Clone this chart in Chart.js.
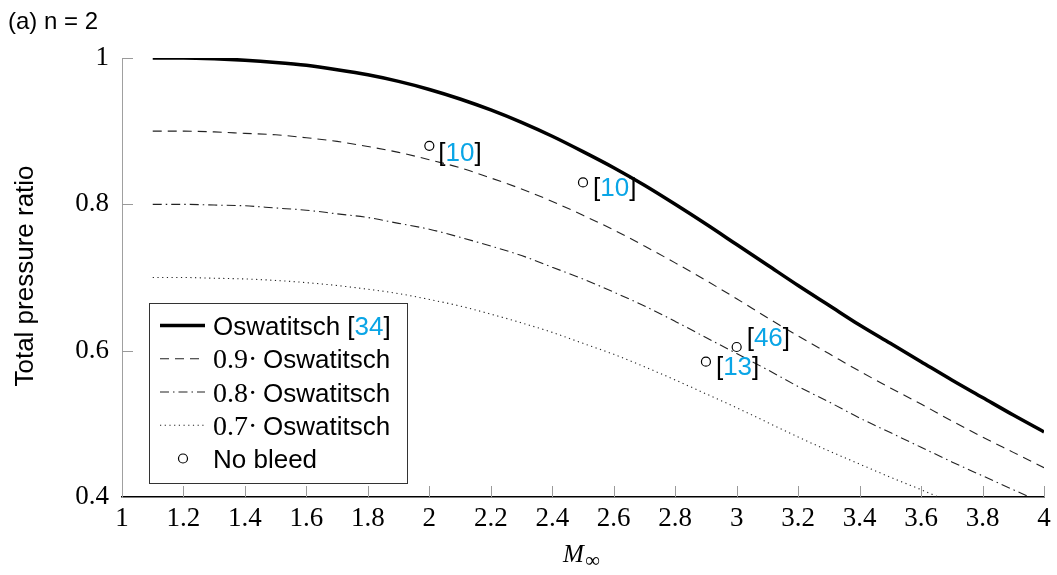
<!DOCTYPE html>
<html>
<head>
<meta charset="utf-8">
<script src="https://cdn.jsdelivr.net/npm/chart.js@4.4.0/dist/chart.umd.min.js"></script>
<style>
  html, body { margin: 0; padding: 0; background: #fff; }
  #wrap { width: 1057px; height: 575px; position: relative; }
</style>
</head>
<body>
<div id="wrap"><canvas id="chart" width="1057" height="575"></canvas></div>
<script>
// Mach numbers along the curves
const machValues = [1.1, 1.2, 1.3, 1.4, 1.5, 1.6, 1.7, 1.8, 1.9, 2.0,
    2.1, 2.2, 2.3, 2.4, 2.5, 2.6, 2.7, 2.8, 2.9, 3.0,
    3.1, 3.2, 3.3, 3.4, 3.5, 3.6, 3.7, 3.8, 3.9, 4.0];

// Oswatitsch optimum
const oswatitsch = [1.000, 1.000, 0.999, 0.997, 0.994, 0.990, 0.984, 0.977, 0.968, 0.957,
    0.944, 0.929, 0.912, 0.893, 0.872, 0.850, 0.826, 0.800, 0.773, 0.745,
    0.717, 0.689, 0.662, 0.635, 0.610, 0.585, 0.560, 0.536, 0.512, 0.489];
const oswatitsch09 = [0.900, 0.900, 0.899, 0.897, 0.895, 0.891, 0.886, 0.879, 0.871, 0.861,
    0.850, 0.836, 0.821, 0.804, 0.785, 0.765, 0.743, 0.720, 0.696, 0.671,
    0.645, 0.620, 0.596, 0.572, 0.549, 0.527, 0.504, 0.482, 0.461, 0.440];
const oswatitsch08 = [0.800, 0.800, 0.799, 0.798, 0.795, 0.792, 0.787, 0.782, 0.774, 0.766,
    0.755, 0.743, 0.730, 0.714, 0.698, 0.680, 0.661, 0.640, 0.618, 0.596,
    0.574, 0.551, 0.530, 0.508, 0.488, 0.468, 0.448, 0.429, 0.410, 0.391];
const oswatitsch07 = [0.700, 0.700, 0.699, 0.698, 0.696, 0.693, 0.689, 0.684, 0.678, 0.670,
    0.661, 0.650, 0.638, 0.625, 0.610, 0.595, 0.578, 0.560, 0.541, 0.522,
    0.502, 0.482, 0.463, 0.445, 0.427, 0.410, 0.392, 0.375, 0.358, 0.342];

// Experimental points without bleed
const bleedMach = [2.0, 2.5, 3.0, 2.9];
const bleedRatio = [0.88, 0.83, 0.605, 0.585];
const bleedRefs = ['10', '10', '46', '13'];

// Axis ticks
const xTicks = [1, 1.2, 1.4, 1.6, 1.8, 2, 2.2, 2.4, 2.6, 2.8, 3, 3.2, 3.4, 3.6, 3.8, 4];
const yTicks = [0.4, 0.6, 0.8, 1];

const CYAN = '#0aa5e6';
const SANS = '"Liberation Sans", Arial, sans-serif';
const SERIF = '"Liberation Serif", "Times New Roman", serif';

// label offsets for the reference tags next to each point [dx, dy to baseline]
const refOffsets = [[9, 15], [10, 14], [10, -1], [10, 13]];

function toXY(xs, ys) {
    return xs.map((x, i) => ({ x: x, y: ys[i] }));
}

// Draw "[nn]" with a cyan number
function drawRef(ctx, x, y, num) {
    ctx.font = '26px ' + SANS;
    ctx.textBaseline = 'alphabetic';
    ctx.textAlign = 'left';
    ctx.fillStyle = '#000';
    ctx.fillText('[', x, y);
    let w = ctx.measureText('[').width;
    ctx.fillStyle = CYAN;
    ctx.fillText(num, x + w, y);
    w += ctx.measureText(num).width;
    ctx.fillStyle = '#000';
    ctx.fillText(']', x + w, y);
}

const extras = {
    id: 'extras',
    afterDraw(chart) {
        const ctx = chart.ctx;
        const xs = chart.scales.x;
        const ys = chart.scales.y;
        const area = chart.chartArea;
        ctx.save();

        // inward tick marks
        ctx.strokeStyle = '#9a9a9a';
        ctx.lineWidth = 1;
        xTicks.forEach(v => {
            if (v === xTicks[0]) return;
            const px = Math.round(xs.getPixelForValue(v)) + 0.5;
            ctx.beginPath();
            ctx.moveTo(px, area.bottom);
            ctx.lineTo(px, area.bottom - 11);
            ctx.stroke();
        });
        yTicks.forEach(v => {
            if (v === yTicks[0]) return;
            const py = Math.round(ys.getPixelForValue(v)) + 0.5;
            ctx.beginPath();
            ctx.moveTo(area.left, py);
            ctx.lineTo(area.left + 11, py);
            ctx.stroke();
        });

        // reference tags
        bleedMach.forEach((m, i) => {
            const px = xs.getPixelForValue(m);
            const py = ys.getPixelForValue(bleedRatio[i]);
            drawRef(ctx, px + refOffsets[i][0], py + refOffsets[i][1], bleedRefs[i]);
        });

        // legend box
        const bx = 149.5, by = 303.5, bw = 258, bh = 180;
        ctx.fillStyle = '#fff';
        ctx.fillRect(bx, by, bw, bh);
        ctx.strokeStyle = '#333';
        ctx.lineWidth = 1;
        ctx.strokeRect(bx, by, bw, bh);

        const rowBase = [335, 368.25, 401.5, 434.75, 468];
        chart.data.datasets.forEach((ds, i) => {
            const base = rowBase[i];
            const cy = base - 9.5;
            ctx.save();
            if (ds.showLine === false) {
                ctx.beginPath();
                ctx.arc(183, cy, 4.5, 0, Math.PI * 2);
                ctx.strokeStyle = '#000';
                ctx.lineWidth = 1.2;
                ctx.stroke();
            } else {
                ctx.beginPath();
                ctx.setLineDash(ds.borderDash || []);
                ctx.strokeStyle = ds.borderColor;
                ctx.lineWidth = ds.borderWidth;
                ctx.moveTo(160, cy);
                ctx.lineTo(205, cy);
                ctx.stroke();
            }
            ctx.restore();
            ctx.textBaseline = 'alphabetic';
            ctx.textAlign = 'left';
            ctx.fillStyle = '#000';
            if (ds.factor) {
                ctx.font = '28px ' + SERIF;
                ctx.fillText(ds.factor + '\u00b7', 213, base);
                ctx.font = '26px ' + SANS;
                ctx.fillText('Oswatitsch', 263, base);
            } else if (ds.ref) {
                ctx.font = '26px ' + SANS;
                const t = ds.label + ' ';
                ctx.fillText(t, 213, base);
                drawRef(ctx, 213 + ctx.measureText(t).width, base, ds.ref);
            } else {
                ctx.font = '26px ' + SANS;
                ctx.fillText(ds.label, 213, base);
            }
        });

        // titles
        ctx.fillStyle = '#000';
        ctx.font = '24px ' + SANS;
        ctx.textAlign = 'left';
        ctx.fillText('(a) n = 2', 8, 29);

        ctx.save();
        ctx.translate(33, 276);
        ctx.rotate(-Math.PI / 2);
        ctx.textAlign = 'center';
        ctx.font = '26px ' + SANS;
        ctx.fillText('Total pressure ratio', 0, 0);
        ctx.restore();

        ctx.textAlign = 'left';
        ctx.font = 'italic 25px ' + SERIF;
        ctx.fillText('M', 563, 562);
        ctx.font = '21px ' + SERIF;
        ctx.fillText('\u221e', 585, 567);

        ctx.restore();
    }
};

new Chart(document.getElementById('chart'), {
    type: 'line',
    data: {
        datasets: [
            {
                label: 'Oswatitsch',
                ref: '34',
                data: toXY(machValues, oswatitsch),
                borderColor: '#000',
                borderWidth: 3.5,
                pointRadius: 0,
                cubicInterpolationMode: 'monotone'
            },
            {
                label: '0.9\u00b7 Oswatitsch',
                factor: '0.9',
                data: toXY(machValues, oswatitsch09),
                borderColor: '#222',
                borderWidth: 1.1,
                borderDash: [9, 6],
                pointRadius: 0,
                cubicInterpolationMode: 'monotone'
            },
            {
                label: '0.8\u00b7 Oswatitsch',
                factor: '0.8',
                data: toXY(machValues, oswatitsch08),
                borderColor: '#222',
                borderWidth: 1.1,
                borderDash: [9, 4, 1.5, 4],
                pointRadius: 0,
                cubicInterpolationMode: 'monotone'
            },
            {
                label: '0.7\u00b7 Oswatitsch',
                factor: '0.7',
                data: toXY(machValues, oswatitsch07),
                borderColor: '#222',
                borderWidth: 1.1,
                borderDash: [1.2, 3.5],
                pointRadius: 0,
                cubicInterpolationMode: 'monotone'
            },
            {
                label: 'No bleed',
                data: toXY(bleedMach, bleedRatio),
                showLine: false,
                pointStyle: 'circle',
                pointRadius: 4.5,
                pointBorderWidth: 1.2,
                borderColor: '#000',
                backgroundColor: 'rgba(255,255,255,0)'
            }
        ]
    },
    options: {
        responsive: false,
        animation: false,
        devicePixelRatio: 1,
        layout: { padding: { left: 0, top: 58, right: 13, bottom: 0 } },
        plugins: { legend: { display: false }, tooltip: { enabled: false } },
        scales: {
            x: {
                type: 'linear',
                min: 1,
                max: 4,
                afterBuildTicks: s => { s.ticks = xTicks.map(v => ({ value: v })); },
                afterFit: s => { s.height = 78; },
                grid: { display: true, drawOnChartArea: false, drawTicks: false },
                border: { display: true, color: '#000', width: 1.5 },
                ticks: {
                    padding: 6,
                    maxRotation: 0,
                    autoSkip: false,
                    color: '#000',
                    font: { family: SERIF, size: 27 },
                    callback: v => String(v)
                }
            },
            y: {
                type: 'linear',
                min: 0.4,
                max: 1,
                afterBuildTicks: s => { s.ticks = yTicks.map(v => ({ value: v })); },
                afterFit: s => { s.width = 122; },
                grid: { display: true, drawOnChartArea: false, drawTicks: false },
                border: { display: true, color: '#a0a0a0', width: 1 },
                ticks: {
                    padding: 13,
                    color: '#000',
                    font: { family: SERIF, size: 27 },
                    callback: v => String(v)
                }
            }
        }
    },
    plugins: [extras]
});
</script>
</body>
</html>
